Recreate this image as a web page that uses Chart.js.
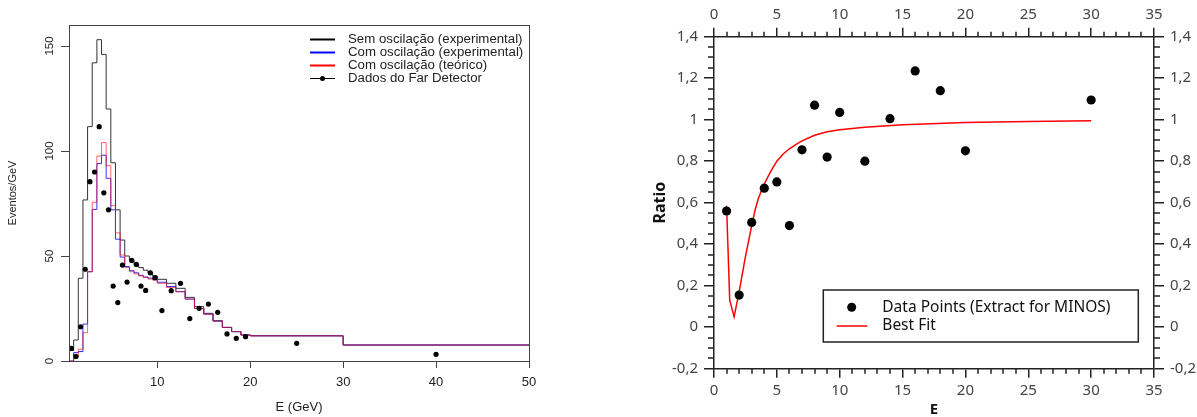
<!DOCTYPE html>
<html>
<head>
<meta charset="utf-8">
<script src="https://cdn.jsdelivr.net/npm/chart.js@4.4.0/dist/chart.umd.min.js"></script>
<style>
  body { margin: 0; background: #fff; width: 1197px; height: 417px; overflow: hidden; }
  #hist { position: absolute; left: 0; top: 0; }
  #ratio { position: absolute; left: 600px; top: 0; }
</style>
</head>
<body>
<canvas id="hist" width="600" height="417"></canvas>
<canvas id="ratio" width="597" height="417"></canvas>
<script>
// ---- espectro de energia (Far Detector) ----
const binLow = [0.5, 1, 1.5, 2, 2.5, 3, 3.5, 4, 4.5, 5, 5.5, 6, 6.5, 7, 7.5, 8, 8.5, 9, 9.5,
                10, 11, 12, 13, 14, 15, 16, 17, 18, 19, 20, 30];
const binEnd = 50;
const semOscExp = [5, 10, 39.4, 76.7, 111.6, 142, 153, 146, 120, 94.4, 72, 57.6, 50, 48, 46, 44.5, 43.2, 42, 40.5,
                   38.9, 37, 34.6, 30.3, 25.9, 22.7, 19.2, 16, 14, 12.4, 12, 7.6];
const comOscExp = [0, 4, 4.5, 17.6, 42.5, 72.2, 94, 98, 87, 72, 58, 49.5, 45, 43, 42, 40.8, 40, 39.5, 39,
                   37.5, 35.5, 33, 29.5, 25, 22.3, 19, 16, 14, 12.4, 12, 7.6];
const comOscTeo = [0, 2, 5.6, 13.5, 42.5, 75.6, 97.6, 104, 93, 74, 61, 50.5, 44.5, 42.5, 41.5, 40.5, 39.8, 39, 38.5,
                   37, 35, 33, 29.5, 25, 22.3, 19, 16, 14, 12.4, 12, 7.6];
const farE = [0.75, 1.25, 1.75, 2.25, 2.75, 3.25, 3.75, 4.25, 4.75, 5.25, 5.75, 6.25, 6.75, 7.25, 7.75,
              8.25, 8.75, 9.25, 9.75, 10.5, 11.5, 12.5, 13.5, 14.5, 15.5, 16.5, 17.5, 18.5, 19.5, 25, 40];
const farN = [6, 2.2, 16.3, 43.7, 85.4, 90, 111.6, 80.1, 72, 35.7, 27.8, 45.7, 37.6, 47.9, 46,
              35.7, 33.6, 42, 39.7, 24, 33.5, 37, 20.2, 25.1, 27.1, 23.2, 12.9, 10.8, 11.6, 8.4, 3.2];
const histXTicks = [10, 20, 30, 40, 50];
const histYTicks = [0, 50, 100, 150];

// ---- razão dados / previsão ----
const ratioE = [1, 2, 3, 4, 5, 6, 7, 8, 9, 10, 12, 14, 16, 18, 20, 30];
const ratioR = [0.56, 0.155, 0.505, 0.67, 0.70, 0.49, 0.855, 1.07, 0.82, 1.035, 0.80, 1.005, 1.235, 1.14, 0.85, 1.095];
const fitE = [1, 1.25, 1.6, 2, 2.5, 3, 3.25, 3.5, 3.75, 4, 4.5, 5, 5.5, 6, 6.5, 7, 8, 9, 10, 12, 15, 20, 25, 30];
const fitR = [0.585, 0.13, 0.05, 0.17, 0.34, 0.49, 0.56, 0.615, 0.655, 0.69, 0.75, 0.80, 0.835, 0.86, 0.88, 0.898,
              0.925, 0.942, 0.952, 0.964, 0.976, 0.986, 0.991, 0.995];
const ratioXTicks = [0, 5, 10, 15, 20, 25, 30, 35];
const ratioYTicks = [-0.2, 0, 0.2, 0.4, 0.6, 0.8, 1, 1.2, 1.4];

// histogram outline: one point per bin start plus the closing edge
function steps(vals) {
  const pts = binLow.map((x, i) => ({ x: x, y: vals[i] }));
  pts.push({ x: binEnd, y: vals[vals.length - 1] });
  return pts;
}
const pairs = (xs, ys) => xs.map((x, i) => ({ x: x, y: ys[i] }));
const comma = v => String(Math.round(v * 10) / 10).replace('.', ',');

const histFont = "'Liberation Sans', Arial, sans-serif";
const ratioFont = "'Noto Sans', 'Open Sans', sans-serif";

// box around the plotting region (R style)
const frame = {
  id: 'frame',
  afterDatasetsDraw(chart) {
    const { ctx, chartArea: a } = chart;
    ctx.save();
    ctx.strokeStyle = '#444';
    ctx.lineWidth = 1;
    ctx.strokeRect(Math.round(a.left) + 0.5, Math.round(a.top) + 0.5,
                   Math.round(a.right - a.left), Math.round(a.bottom - a.top));
    ctx.restore();
  }
};

const histLegend = {
  id: 'histLegend',
  afterDraw(chart) {
    const { ctx, chartArea: a } = chart;
    const ds = chart.data.datasets;
    const order = [3, 2, 1, 0];
    const x0 = a.right - 219, y0 = a.top + 14.5;
    ctx.save();
    ctx.font = '12.5px ' + histFont;
    ctx.textBaseline = 'middle';
    order.forEach((k, i) => {
      const d = ds[k];
      const y = y0 + i * 13;
      ctx.beginPath();
      ctx.strokeStyle = d.legendColor;
      ctx.lineWidth = d.showLine ? 2 : 1;
      ctx.moveTo(x0, y);
      ctx.lineTo(x0 + 25, y);
      ctx.stroke();
      if (!d.showLine) {
        ctx.beginPath();
        ctx.fillStyle = '#000';
        ctx.arc(x0 + 12.5, y, 2.5, 0, Math.PI * 2);
        ctx.fill();
      }
      ctx.save();
      ctx.translate(x0 + 38, y + 0.5);
      ctx.scale(1.06, 1);
      ctx.fillStyle = '#222';
      ctx.fillText(d.label, 0, 0);
      ctx.restore();
    });
    ctx.restore();
  }
};

new Chart(document.getElementById('hist'), {
  type: 'scatter',
  data: {
    datasets: [
      { label: 'Dados do Far Detector', data: pairs(farE, farN), showLine: false,
        pointRadius: 2.6, backgroundColor: '#000', borderWidth: 0, legendColor: '#000' },
      { label: 'Com oscilação (teórico)', data: steps(comOscTeo), showLine: true, stepped: true,
        borderColor: 'rgba(255,0,0,0.6)', borderWidth: 1, pointRadius: 0, legendColor: '#ff0000' },
      { label: 'Com oscilação (experimental)', data: steps(comOscExp), showLine: true, stepped: true,
        borderColor: 'rgba(40,40,255,0.95)', borderWidth: 1, pointRadius: 0, legendColor: '#0000ff' },
      { label: 'Sem oscilação (experimental)', data: steps(semOscExp), showLine: true, stepped: true,
        borderColor: '#333', borderWidth: 1, pointRadius: 0, legendColor: '#000' }
    ]
  },
  options: {
    responsive: false,
    animation: false,
    devicePixelRatio: 1,
    layout: { padding: { top: 25, right: 71, left: 0, bottom: 0 } },
    plugins: { legend: { display: false }, tooltip: { enabled: false } },
    scales: {
      x: {
        type: 'linear', min: 0.5, max: 50,
        afterBuildTicks: s => { s.ticks = histXTicks.map(v => ({ value: v })); },
        afterFit: s => { s.height = 56; },
        border: { display: false },
        grid: { drawOnChartArea: false, tickLength: 7, color: '#444' },
        ticks: { maxRotation: 0, padding: 7, color: '#222', font: { family: histFont, size: 13 } },
        title: { display: true, text: 'E (GeV)', color: '#222', padding: { top: 0, bottom: 1.5 },
                 font: { family: histFont, size: 13 } }
      },
      y: {
        min: 0, max: 160,
        afterBuildTicks: s => { s.ticks = histYTicks.map(v => ({ value: v })); },
        afterFit: s => { s.width = 69; },
        border: { display: false },
        grid: { drawOnChartArea: false, tickLength: 8, color: '#444' },
        ticks: { minRotation: 90, maxRotation: 90, crossAlign: 'center', padding: 1.5, color: '#222',
                 font: { family: histFont, size: 11.5 } },
        title: { display: true, text: 'Eventos/GeV', color: '#222', padding: { top: 6.4, bottom: 0 },
                 font: { family: histFont, size: 11 } }
      }
    }
  },
  plugins: [frame, histLegend]
});

// minor tick marks on all four sides of the ratio plot
const minorTicks = {
  id: 'minorTicks',
  afterDraw(chart) {
    const { ctx, chartArea: a, scales } = chart;
    ctx.save();
    ctx.strokeStyle = '#222';
    ctx.lineWidth = 1.5;
    ctx.beginPath();
    for (let v = 0; v <= 35; v++) {
      if (v % 5 === 0) continue;
      const px = Math.round(scales.x.getPixelForValue(v));
      ctx.moveTo(px, a.bottom); ctx.lineTo(px, a.bottom + 5);
      ctx.moveTo(px, a.top); ctx.lineTo(px, a.top - 5);
    }
    for (let i = -4; i <= 28; i++) {
      if (i % 4 === 0) continue;
      const py = Math.round(scales.y.getPixelForValue(i * 0.05));
      ctx.moveTo(a.left, py); ctx.lineTo(a.left - 6, py);
      ctx.moveTo(a.right, py); ctx.lineTo(a.right + 6, py);
    }
    ctx.stroke();
    ctx.restore();
  }
};

const ratioLegend = {
  id: 'ratioLegend',
  afterDraw(chart) {
    const { ctx, chartArea: a } = chart;
    const ds = chart.data.datasets;
    const bx = a.left + 109.3, by = a.top + 253.3;
    const bw = (a.right - 15.7) - bx, bh = 52;
    ctx.save();
    ctx.fillStyle = '#fff';
    ctx.fillRect(bx, by, bw, bh);
    ctx.strokeStyle = '#222';
    ctx.lineWidth = 1.5;
    ctx.strokeRect(bx, by, bw, bh);
    ctx.font = '15.5px ' + ratioFont;
    ctx.textBaseline = 'middle';
    // points entry
    ctx.beginPath();
    ctx.fillStyle = '#000';
    ctx.arc(bx + 28.4, by + 17.3, 4.5, 0, Math.PI * 2);
    ctx.fill();
    ctx.fillStyle = '#111';
    ctx.fillText(ds[0].label, bx + 59, by + 17.3);
    // fit entry
    ctx.beginPath();
    ctx.strokeStyle = ds[1].borderColor;
    ctx.lineWidth = 1.5;
    ctx.moveTo(bx + 13.4, by + 36);
    ctx.lineTo(bx + 44, by + 36);
    ctx.stroke();
    ctx.fillText(ds[1].label, bx + 59, by + 36);
    ctx.restore();
  }
};

function ratioAxis(position, isX) {
  return {
    type: 'linear',
    axis: isX ? 'x' : 'y',
    position: position,
    min: isX ? 0 : -0.2,
    max: isX ? 35 : 1.4,
    afterBuildTicks: s => { s.ticks = (isX ? ratioXTicks : ratioYTicks).map(v => ({ value: v })); },
    border: { display: true, color: '#222', width: 1.5 },
    grid: { drawOnChartArea: false, tickLength: isX ? 9 : 10, color: '#222', lineWidth: 1.5 },
    ticks: { maxRotation: 0, color: '#444', padding: isX ? 4 : 6,
             font: { family: ratioFont, size: 15 }, callback: v => comma(v) }
  };
}

const xBottom = ratioAxis('bottom', true);
xBottom.afterFit = s => { s.height = 48.3; };
xBottom.title = { display: true, text: 'E', color: '#111', padding: { top: 0, bottom: 0 },
                  font: { family: ratioFont, size: 15, weight: 'bold', lineHeight: 1 } };
const xTop = ratioAxis('top', true);
xTop.afterFit = s => { s.height = 36.7; };
const yLeft = ratioAxis('left', false);
yLeft.afterFit = s => { s.width = 114; };
yLeft.title = { display: true, text: 'Ratio', color: '#111', padding: { top: 50.4, bottom: 0 },
                font: { family: ratioFont, size: 16, weight: 'bold' } };
const yRight = ratioAxis('right', false);
yRight.afterFit = s => { s.width = 43; };

new Chart(document.getElementById('ratio'), {
  type: 'scatter',
  data: {
    datasets: [
      { label: 'Data Points (Extract for MINOS)', data: pairs(ratioE, ratioR), showLine: false,
        pointRadius: 4.6, backgroundColor: '#000', borderWidth: 0 },
      { label: 'Best Fit', data: pairs(fitE, fitR), showLine: true, tension: 0,
        borderColor: '#ff0000', borderWidth: 1.5, pointRadius: 0 }
    ]
  },
  options: {
    responsive: false,
    animation: false,
    devicePixelRatio: 1,
    layout: { padding: 0 },
    plugins: { legend: { display: false }, tooltip: { enabled: false } },
    scales: { x: xBottom, x2: xTop, y: yLeft, y2: yRight }
  },
  plugins: [minorTicks, ratioLegend]
});
</script>
</body>
</html>
